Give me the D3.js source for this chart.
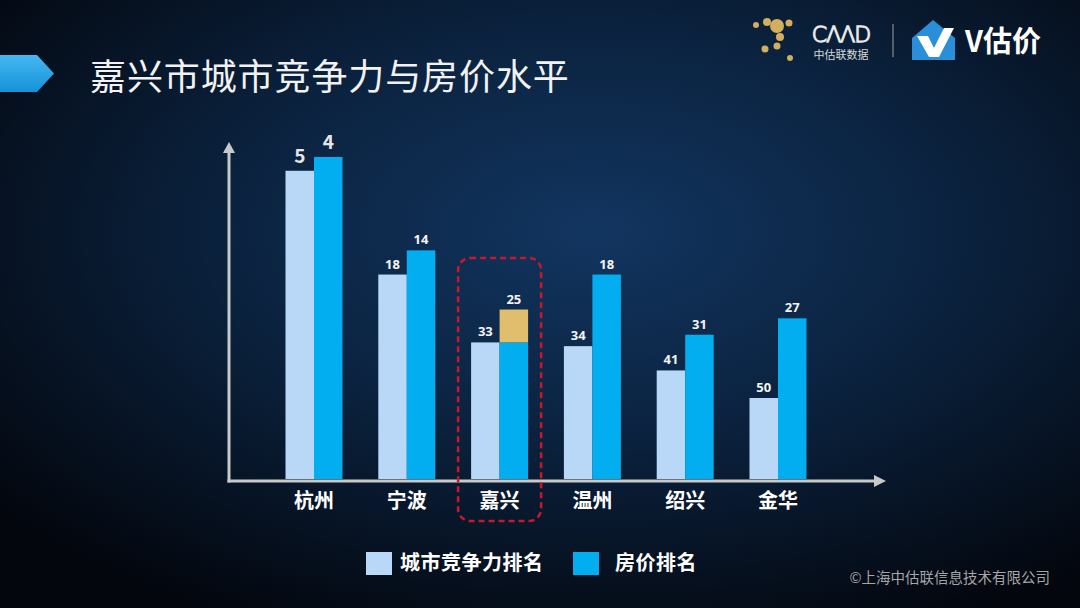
<!DOCTYPE html>
<html>
<head>
<meta charset="utf-8">
<script src="https://cdn.jsdelivr.net/npm/d3@7/dist/d3.min.js"></script>
<style>
  html, body { margin: 0; padding: 0; background: #050a14; }
  svg { display: block; }
</style>
</head>
<body>
<svg id="chart" width="1080" height="608"></svg>
<script>
// ---- data ----
const cities = ["杭州", "宁波", "嘉兴", "温州", "绍兴", "金华"];
const competitivenessRank = [5, 18, 33, 34, 41, 50];
const housePriceRank = [4, 14, 25, 18, 31, 27];
const seriesNames = ["城市竞争力排名", "房价排名"];
const highlightCity = "嘉兴";
const titleText = "嘉兴市城市竞争力与房价水平";
const copyrightText = "©上海中估联信息技术有限公司";

// ---- setup ----
const W = 1080, H = 608;
const svg = d3.select("#chart");
const FONT = "'Noto Sans CJK SC', 'Noto Sans', sans-serif";
const colors = { comp: "#b9d8f7", price: "#03aef0", gold: "#e0be6e" };

const defs = svg.append("defs");
const bg = defs.append("radialGradient").attr("id", "bg")
  .attr("cx", "0.55").attr("cy", "0.38").attr("r", "0.72");
bg.append("stop").attr("offset", "0").attr("stop-color", "#123560");
bg.append("stop").attr("offset", "0.45").attr("stop-color", "#0b2340");
bg.append("stop").attr("offset", "1").attr("stop-color", "#03060d");
svg.append("rect").attr("width", W).attr("height", H).attr("fill", "url(#bg)");

// ---- title ----
const arrowGrad = defs.append("linearGradient").attr("id", "arrowG")
  .attr("x1", 0).attr("y1", 0).attr("x2", 0).attr("y2", 1);
arrowGrad.append("stop").attr("offset", 0).attr("stop-color", "#45b8f2");
arrowGrad.append("stop").attr("offset", 1).attr("stop-color", "#1592d8");
svg.append("path")
  .attr("d", "M0,55 L37,55 L54,73.5 L37,92 L0,92 Z")
  .attr("fill", "url(#arrowG)");
svg.append("text").attr("x", 90).attr("y", 90)
  .attr("font-family", FONT).attr("font-size", 36).attr("fill", "#f2f2f2")
  .attr("letter-spacing", 0.9)
  .text(titleText);

// ---- logos ----
const logo = svg.append("g");
const gold = "#d2ae5e";
[[756, 25, 3], [767, 22, 4], [777, 26, 7], [789, 23, 3.5], [780, 37, 4], [777, 46, 3.5], [765, 49, 3.5], [790, 58, 3]]
  .forEach(d => logo.append("circle").attr("cx", d[0]).attr("cy", d[1]).attr("r", d[2]).attr("fill", gold));
logo.append("text").attr("x", 841).attr("y", 42).attr("text-anchor", "middle")
  .attr("font-family", "'DejaVu Sans', sans-serif").attr("font-size", 22).attr("font-weight", 200)
  .attr("fill", "none").attr("stroke", "#e8e8e8").attr("stroke-width", 1.3).attr("letter-spacing", -1)
  .text("CΛΛD");
logo.append("text").attr("x", 841).attr("y", 59).attr("text-anchor", "middle")
  .attr("font-family", FONT).attr("font-size", 11).attr("fill", "#d8d8d8").text("中估联数据");
logo.append("line").attr("x1", 893).attr("x2", 893).attr("y1", 24).attr("y2", 57)
  .attr("stroke", "#8a8a8a").attr("stroke-width", 1.2);
logo.append("path").attr("d", "M912,38 L933,20 L955,38 L955,60 L912,60 Z").attr("fill", "#2a8fd8");
logo.append("path").attr("d", "M917,36 L928,36 L934,48 L944,28 L954,28 L939,57 L929,57 Z").attr("fill", "#ffffff");
logo.append("text").attr("x", 965).attr("y", 52)
  .attr("font-family", FONT).attr("font-size", 29).attr("font-weight", 700).attr("fill", "#ffffff")
  .text("V估价");

// ---- scales ----
const baseline = 479;
const x0 = d3.scalePoint().domain(cities).range([314, 778]);
const barW = 28.5;
const x1 = d3.scaleBand().domain(seriesNames).range([-barW, barW]);
// rank -> bar top (better rank = taller bar)
const y = d3.scalePow().exponent(0.35)
  .domain([d3.min(housePriceRank), d3.max(competitivenessRank)])
  .range([157, 398]);

const data = cities.map((c, i) => ({ city: c, comp: competitivenessRank[i], price: housePriceRank[i], i }));

// ---- axes ----
const axisColor = "#c9c9c9";
const axisX0 = 229;
svg.append("line").attr("x1", axisX0).attr("x2", axisX0).attr("y1", baseline + 3.5).attr("y2", 152)
  .attr("stroke", axisColor).attr("stroke-width", 3);
svg.append("path").attr("d", `M${axisX0 - 6},153 L${axisX0},142 L${axisX0 + 6},153 Z`).attr("fill", axisColor);
svg.append("line").attr("x1", axisX0 - 1.5).attr("x2", 876).attr("y1", baseline + 2).attr("y2", baseline + 2)
  .attr("stroke", axisColor).attr("stroke-width", 3);
svg.append("path").attr("d", `M874,${baseline - 4} L886,${baseline + 2} L874,${baseline + 8} Z`).attr("fill", axisColor);

// ---- bars ----
const g = svg.append("g");
data.forEach(d => {
  const cx = x0(d.city);
  // competitiveness bar
  g.append("rect").attr("x", cx + x1(seriesNames[0])).attr("width", x1.bandwidth())
    .attr("y", y(d.comp)).attr("height", baseline - y(d.comp)).attr("fill", colors.comp);
  if (d.city === highlightCity) {
    const split = Math.max(y(d.comp), y(d.price));
    g.append("rect").attr("x", cx + x1(seriesNames[1])).attr("width", x1.bandwidth())
      .attr("y", split).attr("height", baseline - split).attr("fill", colors.price);
    g.append("rect").attr("x", cx + x1(seriesNames[1])).attr("width", x1.bandwidth())
      .attr("y", y(d.price)).attr("height", split - y(d.price)).attr("fill", colors.gold);
  } else {
    g.append("rect").attr("x", cx + x1(seriesNames[1])).attr("width", x1.bandwidth())
      .attr("y", y(d.price)).attr("height", baseline - y(d.price)).attr("fill", colors.price);
  }
  // value labels
  const big = d.i === 0;
  [[seriesNames[0], d.comp], [seriesNames[1], d.price]].forEach(([s, v]) => {
    g.append("text")
      .attr("x", cx + x1(s) + x1.bandwidth() / 2)
      .attr("y", y(v) - (big ? 8 : 6))
      .attr("text-anchor", "middle")
      .attr("font-family", big ? FONT : "'Noto Sans', 'DejaVu Sans', sans-serif")
      .attr("font-size", big ? 19 : 13)
      .attr("font-weight", 700)
      .attr("fill", big ? "#e6e6e6" : "#f4f4f4")
      .text(v);
  });
  // category labels
  g.append("text").attr("x", cx).attr("y", 508).attr("text-anchor", "middle")
    .attr("font-family", FONT).attr("font-size", 20).attr("font-weight", 700).attr("fill", "#ffffff")
    .text(d.city);
});

// highlight box
const hx = x0(highlightCity);
svg.append("rect").attr("x", hx - 41.5).attr("y", 258).attr("width", 83).attr("height", 263)
  .attr("rx", 12).attr("ry", 12).attr("fill", "none")
  .attr("stroke", "#c8182c").attr("stroke-width", 2.5).attr("stroke-dasharray", "6,4");

// ---- legend ----
const legend = svg.append("g");
const legendItems = [
  { name: seriesNames[0], color: colors.comp, x: 366, tx: 400 },
  { name: seriesNames[1], color: colors.price, x: 573, tx: 615 }
];
legendItems.forEach(l => {
  legend.append("rect").attr("x", l.x).attr("y", 552).attr("width", 26).attr("height", 23).attr("fill", l.color);
  legend.append("text").attr("x", l.tx).attr("y", 570)
    .attr("font-family", FONT).attr("font-size", 20).attr("font-weight", 700).attr("fill", "#ffffff")
    .attr("letter-spacing", 0.5)
    .text(l.name);
});

// ---- copyright ----
svg.append("text").attr("x", 1050).attr("y", 583).attr("text-anchor", "end")
  .attr("font-family", FONT).attr("font-size", 14.5).attr("fill", "#a6a6a6")
  .text(copyrightText);
</script>
</body>
</html>
